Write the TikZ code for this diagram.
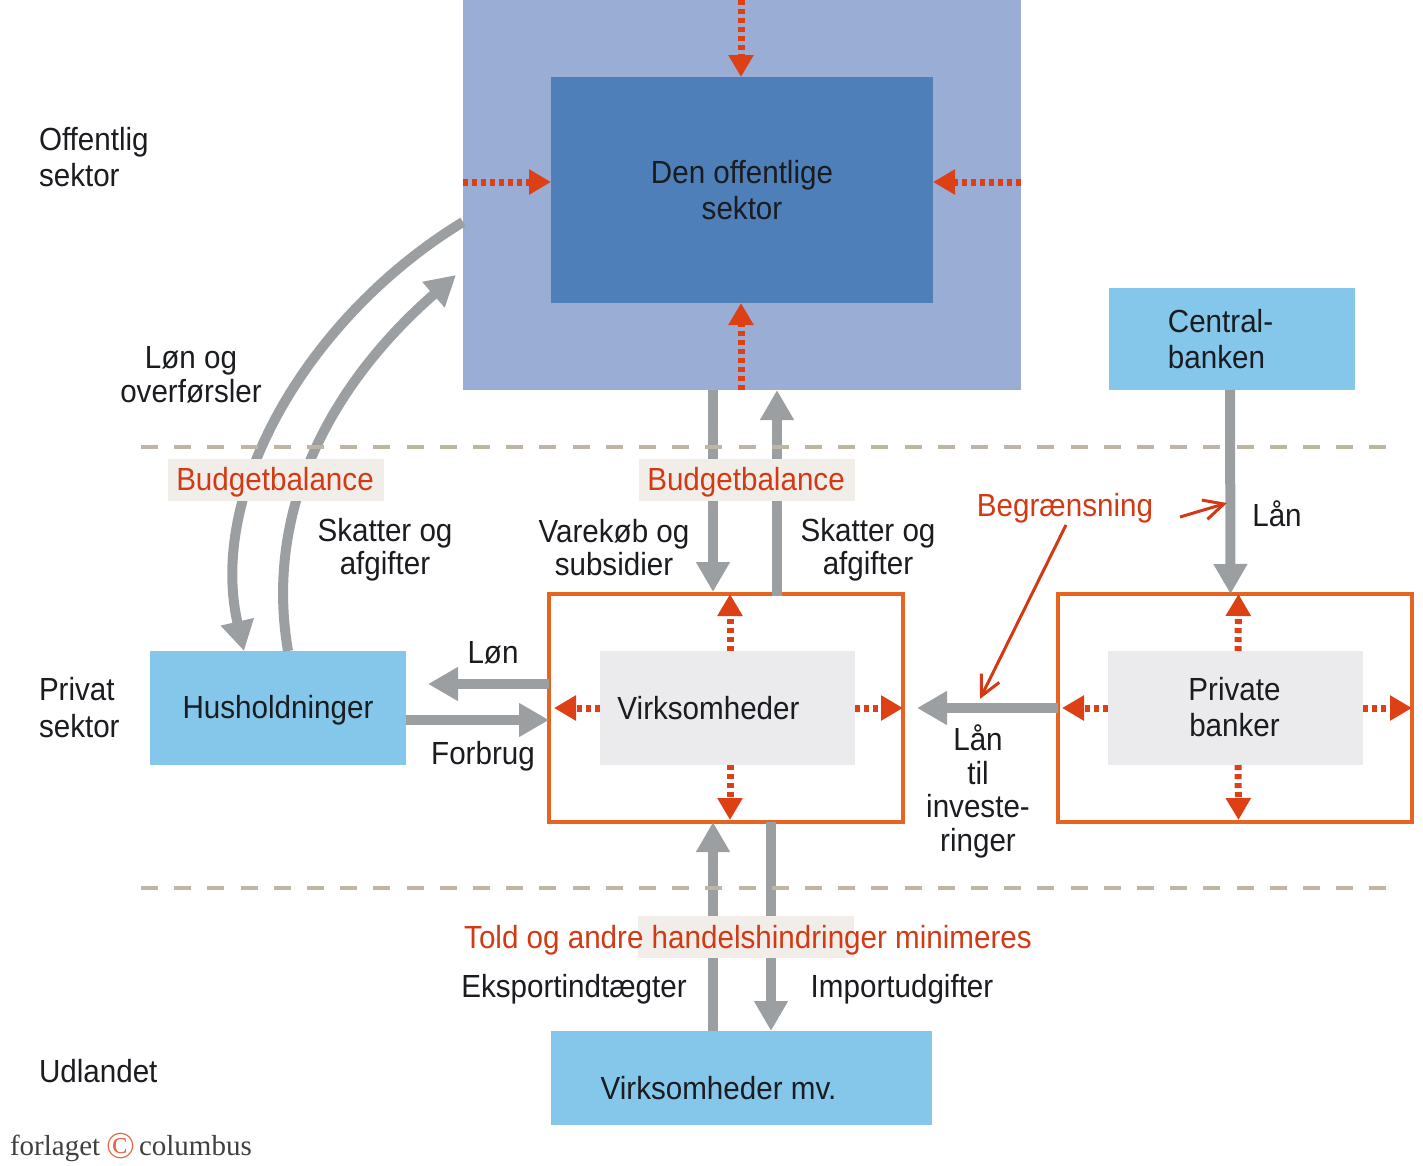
\documentclass[tikz,border=0pt]{standalone}
\usepackage{fontspec}
\setmainfont[FakeStretch=0.925]{Liberation Sans}
\newfontfamily\logofont{Liberation Serif}
\usepackage{tikz}
\usepackage{xcolor}
\usetikzlibrary{positioning}
\usetikzlibrary{arrows.meta}
\definecolor{outerblue}{HTML}{9AAED5}
\definecolor{innerblue}{HTML}{4E7FB8}
\definecolor{lightblue}{HTML}{85C7EA}
\definecolor{palegray}{HTML}{EBEBEE}
\definecolor{framecol}{HTML}{E5641F}
\definecolor{flowgray}{HTML}{9C9FA1}
\definecolor{redtxt}{HTML}{D13A14}
\definecolor{redflow}{HTML}{DD4015}
\definecolor{sandline}{HTML}{BEB5A3}
\definecolor{sandbox}{HTML}{F1EEE9}
\definecolor{inktxt}{HTML}{1A1C20}
\tikzstyle{every node}=[inner sep=0pt, outer sep=0pt, text=inktxt, align=center, font=\fontsize{32}{36.8}\selectfont]
\tikzstyle{tight}=[font=\fontsize{32}{33.5}\selectfont]
\tikzstyle{sidelabel}=[align=left, anchor=west]
\tikzstyle{frame}=[draw=framecol, line width=4pt, minimum width=354pt, minimum height=228pt]
\tikzstyle{cell}=[fill=palegray, minimum width=255pt, minimum height=114pt]
\tikzstyle{sky}=[fill=lightblue]
\tikzstyle{warn}=[text=redtxt]
\tikzstyle{tag}=[fill=sandbox, minimum width=216pt, minimum height=42pt]
\tikzstyle{flow}=[draw=flowgray, line width=10pt, -{Triangle[length=30pt,width=32pt]}]
\tikzstyle{pressure}=[draw=redflow, line width=7pt, dash pattern=on 5pt off 4pt, -{Triangle[length=22pt,width=24pt]}]
\tikzstyle{pointer}=[draw=redtxt, line width=3pt, -{Straight Barb[length=20pt,width=20pt]}]
\tikzstyle{divider}=[draw=sandline, line width=4pt, dash pattern=on 17pt off 16.2pt]

\begin{document}
\begin{tikzpicture}[x=1pt, y=-1pt]
    \useasboundingbox (0,0) rectangle (1423,1165);

    \node[fill=outerblue, minimum width=558pt, minimum height=390pt] (outer) at (742,195) {};
    \node[fill=innerblue, minimum width=382pt, minimum height=226pt] (inner) at (742,190) {Den offentlige\\sektor};
    \node[frame]                 (virkframe)                            at (726,708) {};
    \node[cell]                  (virk)                                 at (727.5,708) {};
    \node[sky, minimum width=256pt, minimum height=114pt] (hush) [left = 143pt of virkframe] {};
    \node[frame]                 (bankframe) [right = 155pt of virkframe] {};
    \node[cell]                  (bank)      at (1235.5,708) {};
    \node[sky, minimum width=246pt, minimum height=102pt] (central) [above = 204pt of bankframe, xshift=-3.5pt] {};
    \node[sky, minimum width=381pt, minimum height=94pt]  (udland)  [below = 209pt of virkframe, xshift=15.5pt] {};

    \node (hushtxt)    [yshift=-2.5pt] at (hush) {Husholdninger};
    \node (virktxt)    [xshift=-19pt] at (virk)    {Virksomheder};
    \node (banktxt)    [yshift=1pt, xshift=-1pt] at (bank) {Private\\banker};
    \node[align=left] (centraltxt) [xshift=-11pt] at (central) {Central-\\banken};
    \node (udlandtxt)  [xshift=-23pt, yshift=-10pt] at (udland) {Virksomheder mv.};

    \coordinate (divideA) at (141,447);
    \coordinate (divideB) at (1387,447);
    \coordinate (divideC) at (141,888);
    \coordinate (divideD) at (1387,888);

    % gray flows
    \draw[flow] ([xshift=-29pt]outer.south) to ([xshift=-13pt,yshift=2pt]virkframe.north);
    \draw[flow] ([xshift=51pt,yshift=-2pt]virkframe.north) to ([xshift=35pt]outer.south);
    \draw[flow] (central.south -| 1230,0) to ([xshift=-4.5pt]bankframe.north);
    \draw[flow] ([yshift=24pt]virkframe.west) to ([xshift=-121pt,yshift=24pt]virkframe.west);
    \draw[flow] ([yshift=-12pt]hush.east) to ([yshift=-12pt]virkframe.west);
    \draw[flow] (bankframe.west) to ([xshift=-141pt]bankframe.west);
    \draw[flow] ([xshift=-28.5pt]udland.north) to ([xshift=-13pt]virkframe.south);
    \draw[flow] ([xshift=45pt]virkframe.south) to ([xshift=29.5pt]udland.north);
    \draw[flow] ([yshift=-27pt]outer.west) .. controls +(-153,93) and (207,490) .. ([xshift=-34pt]hush.north);
    \draw[flow] ([xshift=10pt]hush.north) .. controls (264,510) and (330,385) .. ([xshift=-7pt,yshift=-80pt]outer.west);

    % pressure on the sectors
    \draw[pressure] ([xshift=-1pt]outer.north) to ([xshift=-1pt]inner.north);
    \draw[pressure] ([xshift=-1pt]outer.south) to ([xshift=-1pt]inner.south);
    \draw[pressure] ([yshift=13pt]outer.west) to ([yshift=8pt]inner.west);
    \draw[pressure] ([yshift=13pt]outer.east) to ([yshift=8pt]inner.east);
    \draw[pressure] ([xshift=2.5pt]virk.north) to ([xshift=4pt]virkframe.north);
    \draw[pressure] ([xshift=2.5pt]virk.south) to ([xshift=4pt,yshift=2pt]virkframe.south);
    \draw[pressure] (virk.west) to ([xshift=5pt]virkframe.west);
    \draw[pressure] (virk.east) to (virkframe.east);
    \draw[pressure] ([xshift=2.5pt]bank.north) to ([xshift=3.5pt]bankframe.north);
    \draw[pressure] ([xshift=2.5pt]bank.south) to ([xshift=3.5pt,yshift=2pt]bankframe.south);
    \draw[pressure] (bank.west) to ([xshift=4pt]bankframe.west);
    \draw[pressure] (bank.east) to (bankframe.east);

    \draw[divider] (divideA) to (divideB);
    \draw[divider] (divideC) to (divideD);

    \node[tag]  (budgetA) at (276,480) {};
    \node[tag]  (budgetB) at (747,480) {};
    \node[tag]  (toldbox) at (746,937) {};
    \node[warn] (budgetAtxt) at (275,482) {Budgetbalance};
    \node[warn] (budgetBtxt) at (746,482) {Budgetbalance};
    \node[warn] (told)    at (748,940) {Told og andre handelshindringer minimeres};
    \node[warn] (limit)   at (1065,508) {Begrænsning};

    \node (loen)     at (493,653) {Løn};
    \node (forbrug)  at (483,756) {Forbrug};
    \node (laan)     at (1277,514) {Lån};
    \node (eksport)  at (574,989) {Eksportindtægter};
    \node (import)   at (902,989) {Importudgifter};
    \node[tight] (overfor)  at (191,375) {Løn og\\overførsler};
    \node[tight] (skatA)    at (385,549.5) {Skatter og\\afgifter};
    \node[tight] (skatB)    at (868,549.5) {Skatter og\\afgifter};
    \node[tight] (varekoeb) at (614,547.5) {Varekøb og\\subsidier};
    \node[tight] (invest)   at (978,791.5) {Lån\\til\\investe-\\ringer};

    \coordinate (limitA) at (1180,517);
    \draw[pointer] (limit.south) ++(1pt,-2pt) to ([xshift=-85pt,yshift=-176pt]limit.south);
    \draw[pointer] (limitA) to ([xshift=47pt,yshift=14pt]limitA);

    \node[sidelabel] (offentlig) at (39,157)  {Offentlig\\sektor};
    \node[sidelabel] (privat)    at (39,707.5)  {Privat\\sektor};
    \node[sidelabel] (udlandet)  at (39,1071) {Udlandet};

    \node[font=\logofont\fontsize{29}{29}\selectfont, text=black!75, anchor=base west] (forlaget) at (10,1155) {forlaget};
    \node[font=\logofont\fontsize{38}{38}\selectfont, text=redflow!80, anchor=base] (logomark) at (120.5,1158.5) {©};
    \node[font=\logofont\fontsize{29}{29}\selectfont, text=black!75, anchor=base west] (columbus) at (139,1155) {columbus};
\end{tikzpicture}
\end{document}
